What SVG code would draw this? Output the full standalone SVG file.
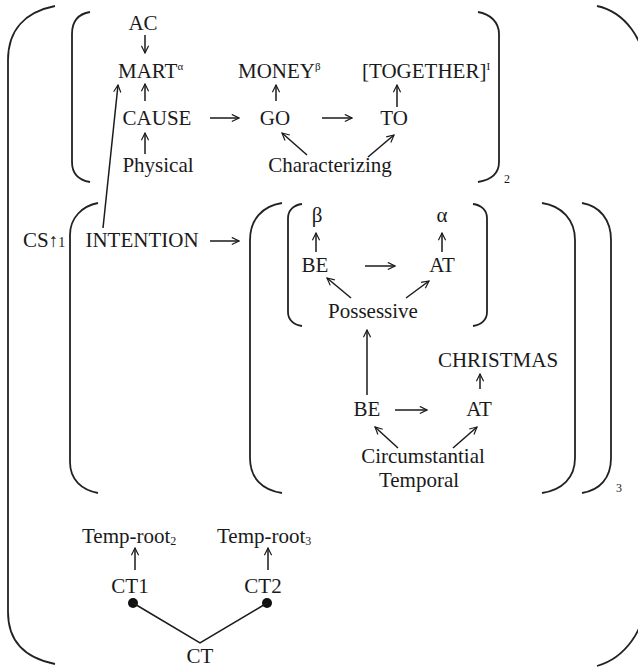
<svg xmlns="http://www.w3.org/2000/svg" width="638" height="668" viewBox="0 0 638 668">
<style>
text{font-family:"Liberation Serif","Times New Roman",serif;font-size:21px;fill:#1a1a1a;text-anchor:middle}
.l{text-anchor:start}
.sup{font-size:11px}
.sub{font-size:12px}
.br{fill:none;stroke:#222;stroke-width:1.8}
.c line,.c polyline{fill:none;stroke:#1a1a1a;stroke-width:1.5}
</style>
<defs>
<marker id="ah" viewBox="0 0 10 10" refX="9" refY="5" markerWidth="9" markerHeight="9" markerUnits="userSpaceOnUse" orient="auto">
<polyline points="1,1 9,5 1,9" fill="none" stroke="#1a1a1a" stroke-width="1.3"/>
</marker>
</defs>
<rect width="638" height="668" fill="#fff"/>
<g id="brackets">
<path class="br" d="M55,6 C25,12 8,30 8,60 L8,612 C8,642 25,658 55,664"/>
<path class="br" d="M597,6 C625,12 645,40 645,70 L645,600 C645,630 625,658 597,666"/>
<path class="br" d="M90,12 C78,14 72,22 72,34 L72,162 C72,174 78,180 90,182"/>
<path class="br" d="M478,12 C490,14 499,22 499,34 L499,162 C499,174 490,180 478,182"/>
<text class="sub" x="507" y="183">2</text>
<path class="br" d="M98,203 C82,206 70,218 70,235 L70,462 C70,480 82,490 98,493"/>
<path class="br" d="M282,203 C262,206 250,220 250,240 L250,458 C250,478 262,490 282,493"/>
<path class="br" d="M542,203 C562,206 575,220 575,240 L575,458 C575,478 562,490 542,493"/>
<path class="br" d="M582,203 C600,206 611,220 611,240 L611,458 C611,478 600,490 582,493"/>
<text class="sub" x="619" y="492">3</text>
<path class="br" d="M302,204 C294,205 288,210 288,218 L288,312 C288,320 294,325 302,326"/>
<path class="br" d="M473,204 C481,205 487,210 487,218 L487,312 C487,320 481,325 473,326"/>
</g>
<g id="n-ac"><text x="143" y="30">AC</text></g>
<g id="n-mart"><text class="l" x="118" y="78">MART<tspan class="sup" dy="-8">α</tspan></text></g>
<g id="n-money"><text class="l" x="238" y="78">MONEY<tspan class="sup" dy="-8">β</tspan></text></g>
<g id="n-together"><text class="l" x="362" y="78">[TOGETHER]<tspan class="sup" dy="-8">I</tspan></text></g>
<g id="n-cause"><text x="157" y="125">CAUSE</text></g>
<g id="n-go"><text x="275" y="125">GO</text></g>
<g id="n-to"><text x="394" y="125">TO</text></g>
<g id="n-physical"><text x="158" y="172">Physical</text></g>
<g id="n-characterizing"><text x="330" y="172">Characterizing</text></g>
<g id="n-cs"><text class="l" x="23" y="247">CS<tspan font-size="19">↑</tspan><tspan font-size="14">1</tspan></text></g>
<g id="n-intention"><text x="142" y="247">INTENTION</text></g>
<g id="n-beta"><text x="317" y="222">β</text></g>
<g id="n-alpha"><text x="442" y="222">α</text></g>
<g id="n-be1"><text x="315" y="272">BE</text></g>
<g id="n-at1"><text x="442" y="272">AT</text></g>
<g id="n-possessive"><text x="373" y="318">Possessive</text></g>
<g id="n-christmas"><text x="498" y="367">CHRISTMAS</text></g>
<g id="n-be2"><text x="367" y="416">BE</text></g>
<g id="n-at2"><text x="479" y="416">AT</text></g>
<g id="n-circ"><text x="423" y="463">Circumstantial</text><text x="419" y="487">Temporal</text></g>
<g id="n-temproot2"><text class="l" x="82" y="543">Temp-root<tspan class="sub" dy="2">2</tspan></text></g>
<g id="n-temproot3"><text class="l" x="217" y="543">Temp-root<tspan class="sub" dy="2">3</tspan></text></g>
<g id="n-ct1"><text x="130" y="593">CT1</text><circle cx="133" cy="603" r="5" fill="#111"/></g>
<g id="n-ct2"><text x="263" y="593">CT2</text><circle cx="267" cy="603" r="5" fill="#111"/></g>
<g id="n-ct"><text x="200" y="663">CT</text></g>
<g id="connectors" class="c">
<line x1="145" y1="35" x2="145" y2="53" marker-end="url(#ah)"/>
<line x1="145" y1="101" x2="145" y2="84" marker-end="url(#ah)"/>
<line x1="103" y1="228" x2="118" y2="85" marker-end="url(#ah)"/>
<line x1="210" y1="118" x2="239" y2="118" marker-end="url(#ah)"/>
<line x1="145" y1="154" x2="145" y2="133" marker-end="url(#ah)"/>
<line x1="276" y1="101" x2="276" y2="85" marker-end="url(#ah)"/>
<line x1="307" y1="155" x2="282" y2="133" marker-end="url(#ah)"/>
<line x1="322" y1="118" x2="352" y2="118" marker-end="url(#ah)"/>
<line x1="368" y1="157" x2="394" y2="135" marker-end="url(#ah)"/>
<line x1="397" y1="107" x2="397" y2="85" marker-end="url(#ah)"/>
<line x1="210" y1="241" x2="239" y2="241" marker-end="url(#ah)"/>
<line x1="316" y1="252" x2="316" y2="233" marker-end="url(#ah)"/>
<line x1="442" y1="252" x2="442" y2="233" marker-end="url(#ah)"/>
<line x1="365" y1="266" x2="395" y2="266" marker-end="url(#ah)"/>
<line x1="351" y1="298" x2="327" y2="278" marker-end="url(#ah)"/>
<line x1="406" y1="298" x2="429" y2="281" marker-end="url(#ah)"/>
<line x1="367" y1="395" x2="367" y2="330" marker-end="url(#ah)"/>
<line x1="480" y1="389" x2="480" y2="374" marker-end="url(#ah)"/>
<line x1="395" y1="410" x2="427" y2="410" marker-end="url(#ah)"/>
<line x1="398" y1="448" x2="375" y2="427" marker-end="url(#ah)"/>
<line x1="453" y1="448" x2="477" y2="427" marker-end="url(#ah)"/>
<line x1="135" y1="570" x2="135" y2="548" marker-end="url(#ah)"/>
<line x1="268" y1="570" x2="268" y2="548" marker-end="url(#ah)"/>
<polyline points="133,603 200,643 267,603"/>
</g>
</svg>
